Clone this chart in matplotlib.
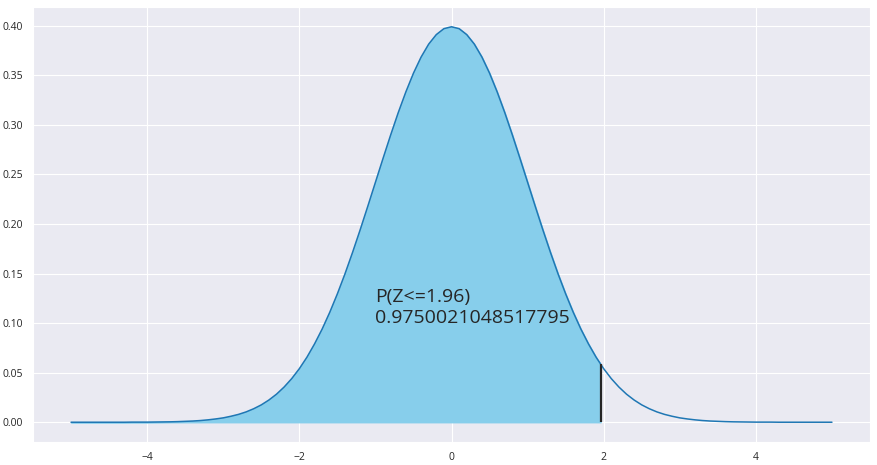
import numpy as np
import matplotlib.pyplot as plt
import seaborn as sns

# standard normal density, z from -5 to 5 in steps of 0.1
z = np.linspace(-5, 5, 101)
half = [0.3989, 0.3970, 0.3910, 0.3814, 0.3683, 0.3521, 0.3332, 0.3123, 0.2897,
        0.2661, 0.2420, 0.2179, 0.1942, 0.1714, 0.1497, 0.1295, 0.1109, 0.0940,
        0.0790, 0.0656, 0.0540, 0.0440, 0.0355, 0.0283, 0.0224, 0.0175, 0.0136,
        0.0104, 0.0079, 0.0060, 0.0044, 0.0033, 0.0024, 0.0017, 0.0012, 0.0009,
        0.0006, 0.0004, 0.0003, 0.0002, 0.0001, 0.0001, 0.0001, 0.0000, 0.0000,
        0.0000, 0.0000, 0.0000, 0.0000, 0.0000, 0.0000]
density = np.array(half[:0:-1] + half)

cut_z = 1.96
cut_density = 0.0584
prob_text = 'P(Z<=1.96)\n0.9750021048517795'

sns.set_style('darkgrid')
plt.rcParams['font.family'] = ['Open Sans', 'DejaVu Sans']

fig = plt.figure(figsize=(8.77, 4.65), dpi=100)
ax = fig.add_axes([33 / 877, 23 / 465, 837 / 877, 435 / 465])

ax.plot(z, density, color='#1f77b4', lw=1.1)

# shaded area up to the cut point
m = z < cut_z
fz = np.append(z[m], cut_z)
fd = np.append(density[m], cut_density)
ax.fill_between(fz, fd, color='skyblue')
ax.vlines(cut_z, 0, cut_density, color='#262626', lw=1.6)

ax.text(-1, 0.1, prob_text, fontsize=14, color='#262626')

ax.tick_params(labelsize=7.5, colors='#262626')
fig.savefig('out.png', dpi=100)
